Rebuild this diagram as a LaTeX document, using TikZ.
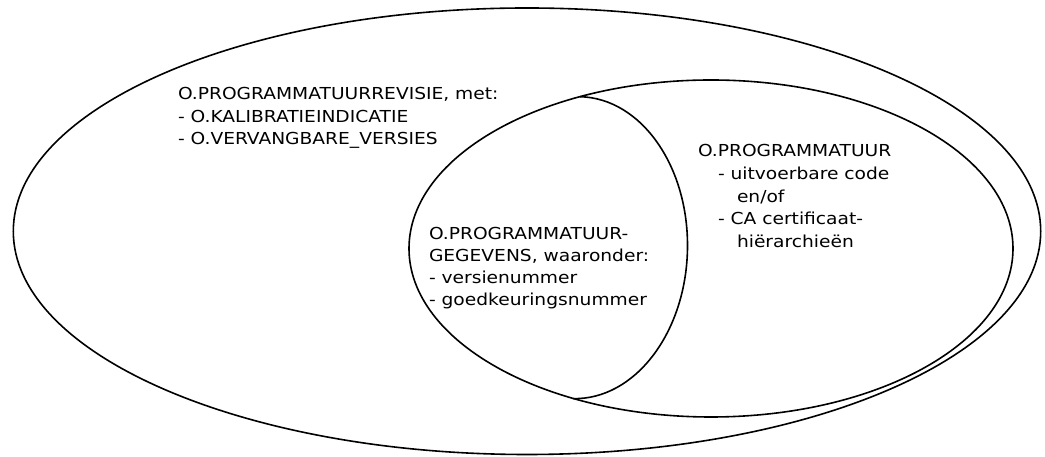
\documentclass[tikz,border=0pt]{standalone}
\usepackage{fontspec}
\setmainfont[FakeStretch=1.13]{DejaVu Sans}
\begin{document}
\begin{tikzpicture}[x=1pt,y=1pt,
  shape line/.style={draw=black,line width=1.6pt},
  lbl/.style={anchor=base west,inner sep=0pt,outer sep=0pt,font=\fontsize{16.5}{22.5}\selectfont}]
\useasboundingbox (0,0) rectangle (1045,457);
% outer ellipse: O.PROGRAMMATUURREVISIE
\draw[shape line] (527,225.75) ellipse[x radius=513.7,y radius=223.25];
% middle ellipse: O.PROGRAMMATUUR
\draw[shape line] (711,208.5) ellipse[x radius=302,y radius=168.5];
% lens: O.PROGRAMMATUURGEGEVENS
\coordinate (lensTop) at (580,360.3);
\begin{scope}[rotate around={-1.33:(lensTop)}]
\draw[shape line] (lensTop) arc[start angle=90,end angle=-90,x radius=111,y radius=151];
\end{scope}
% block 1
\node[lbl] (r1) at (178,357) {O.PROGRAMMATUURREVISIE, met:};
\node[lbl] (r2) at (178,334.5) {- O.KALIBRATIEINDICATIE};
\node[lbl] (r3) at (178,312) {- O.VERVANGBARE\_VERSIES};
% block 2
\node[lbl] (g1) at (429,217.5) {O.PROGRAMMATUUR-};
\node[lbl] (g2) at (429,195.5) {GEGEVENS, waaronder:};
\node[lbl] (g3) at (429,173.5) {- versienummer};
\node[lbl] (g4) at (429,151.5) {- goedkeuringsnummer};
% block 3
\node[lbl] (p1) at (698,300) {O.PROGRAMMATUUR};
\node[lbl] (p2) at (718,277) {- uitvoerbare code};
\node[lbl] (p3) at (737,254.5) {en/of};
\node[lbl] (p4) at (718,232) {- CA certificaat-};
\node[lbl] (p5) at (737,209) {hiërarchieën};
\end{tikzpicture}
\end{document}
